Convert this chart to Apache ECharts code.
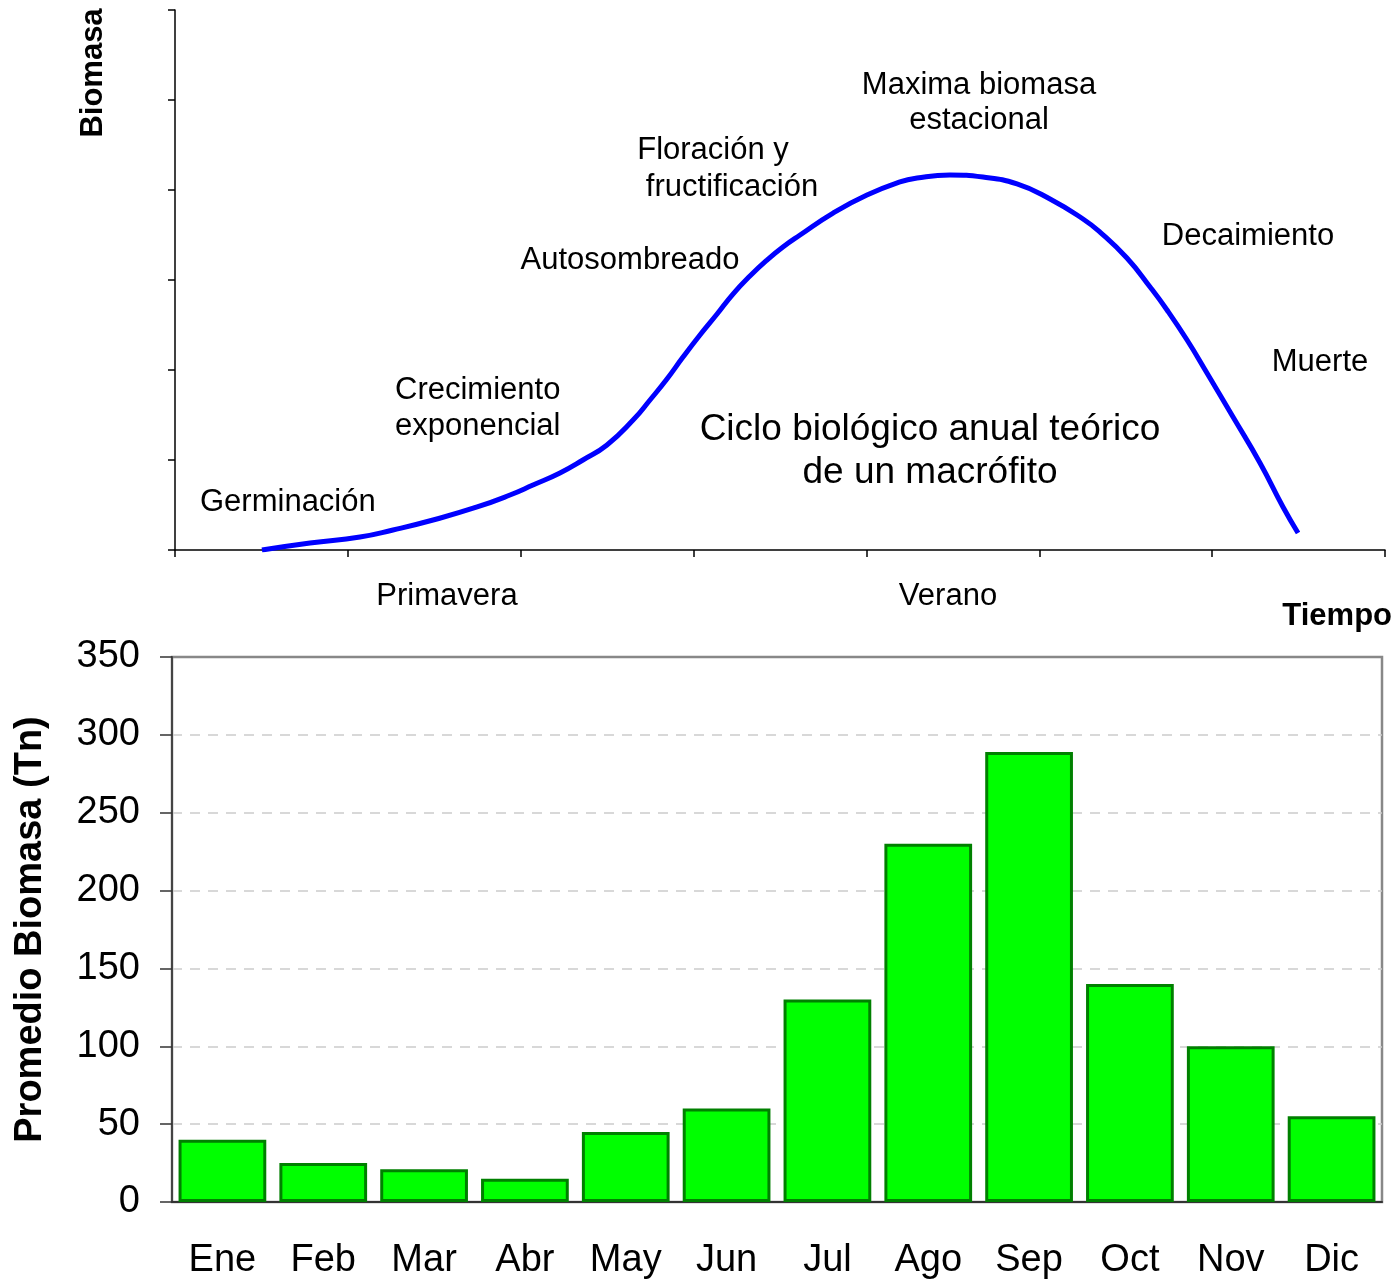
<!DOCTYPE html>
<html>
<head>
<meta charset="utf-8">
<script src="https://cdn.jsdelivr.net/npm/echarts@6/dist/echarts.min.js"></script>
<style>
  html, body { margin: 0; padding: 0; background: #fff; }
  #chart { width: 1398px; height: 1279px; }
</style>
</head>
<body>
<div id="chart"></div>
<script>
// Curva teórica (arriba): tiempo y biomasa en unidades de tick
const curveX = [0.503, 0.781, 1.070, 1.261, 1.493, 1.748, 1.938, 2.071, 2.227, 2.360, 2.499, 2.650, 2.748, 2.846, 2.939,
  3.037, 3.136, 3.228, 3.326, 3.425, 3.517, 3.616, 3.807, 4.003, 4.194, 4.293, 4.483, 4.674, 4.871, 5.062,
  5.253, 5.351, 5.507, 5.641, 5.739, 5.855, 5.970, 6.121, 6.277, 6.410, 6.497];
const curveY = [0.000, 0.078, 0.144, 0.222, 0.333, 0.478, 0.611, 0.722, 0.856, 1.000, 1.167, 1.444, 1.667, 1.900, 2.144,
  2.389, 2.622, 2.844, 3.044, 3.222, 3.367, 3.500, 3.744, 3.944, 4.089, 4.133, 4.167, 4.144, 4.067, 3.900,
  3.678, 3.533, 3.244, 2.922, 2.667, 2.333, 1.967, 1.478, 0.967, 0.478, 0.189];

// Promedio mensual (abajo)
const months = ['Ene', 'Feb', 'Mar', 'Abr', 'May', 'Jun', 'Jul', 'Ago', 'Sep', 'Oct', 'Nov', 'Dic'];
const biomasa = [40, 25, 21, 15, 45, 60, 130, 230, 289, 140, 100, 55];

const FONT = '"Liberation Sans", Arial, sans-serif';

function label(text, x, y, size, align, bold) {
  return {
    type: 'text', x: x, y: y, silent: true,
    style: {
      text: text, fill: '#000', font: (bold ? 'bold ' : '') + size + 'px ' + FONT,
      textAlign: align || 'center', textVerticalAlign: 'middle'
    }
  };
}

const chart = echarts.init(document.getElementById('chart'), null, { renderer: 'canvas' });
chart.setOption({
  animation: false,
  backgroundColor: '#fff',
  grid: [
    { left: 175, top: 10, width: 1210, height: 540, outerBoundsMode: 'none', containLabel: false },
    { left: 172, top: 657, width: 1210, height: 545, outerBoundsMode: 'none', containLabel: false,
      show: true, borderColor: '#888', borderWidth: 2.5, backgroundColor: 'transparent' }
  ],
  xAxis: [
    {
      gridIndex: 0, type: 'value', min: 0, max: 7, interval: 1,
      axisLine: { lineStyle: { color: '#000', width: 1.5 } },
      axisTick: { inside: false, length: 7, lineStyle: { color: '#000', width: 1.5 } },
      axisLabel: { show: false }, splitLine: { show: false }
    },
    {
      gridIndex: 1, type: 'category', data: months, boundaryGap: true,
      axisLine: { lineStyle: { color: '#333', width: 2 } },
      axisTick: { inside: false, length: 11, alignWithLabel: false, lineStyle: { color: '#333', width: 1.5 } },
      axisLabel: { color: '#000', fontSize: 38, fontFamily: FONT, margin: 40 },
      splitLine: { show: false }
    }
  ],
  yAxis: [
    {
      gridIndex: 0, type: 'value', min: 0, max: 6, interval: 1,
      axisLine: { show: true, lineStyle: { color: '#000', width: 1.5 } },
      axisTick: { show: true, inside: false, length: 7, lineStyle: { color: '#000', width: 1.5 } },
      axisLabel: { show: false }, splitLine: { show: false }
    },
    {
      gridIndex: 1, type: 'value', min: 0, max: 350, interval: 50,
      axisLine: { show: true, lineStyle: { color: '#444', width: 2 } },
      axisTick: { show: true, inside: false, length: 12, lineStyle: { color: '#333', width: 1.5 } },
      axisLabel: { color: '#000', fontSize: 38, fontFamily: FONT, margin: 32 },
      splitLine: { show: true, showMaxLine: false, showMinLine: false, lineStyle: { color: '#ccc', type: [10, 8], width: 1.5 } },
      name: 'Promedio Biomasa (Tn)', nameLocation: 'middle', nameGap: 122, nameRotate: 90,
      nameTextStyle: { color: '#000', fontSize: 38, fontWeight: 'bold', fontFamily: FONT }
    }
  ],
  series: [
    {
      type: 'line', xAxisIndex: 0, yAxisIndex: 0, smooth: 0.5, symbol: 'none',
      lineStyle: { color: '#0000ff', width: 5 },
      data: curveX.map(function (x, i) { return [x, curveY[i]]; })
    },
    {
      type: 'bar', xAxisIndex: 1, yAxisIndex: 1, barWidth: '87%',
      itemStyle: { color: '#00ff00', borderColor: '#008000', borderWidth: 3 },
      data: biomasa
    }
  ],
  graphic: [
    {
      type: 'text', x: 93, y: 73, rotation: Math.PI / 2, silent: true,
      style: { text: 'Biomasa', fill: '#000', font: 'bold 31px ' + FONT, textAlign: 'center', textVerticalAlign: 'middle' }
    },
    label('Maxima biomasa', 979, 85, 31),
    label('estacional', 979, 120, 31),
    label('Floración y', 713, 150, 31),
    label('fructificación', 732, 187, 31),
    label('Autosombreado', 630, 260, 31),
    label('Crecimiento', 395, 390, 31, 'left'),
    label('exponencial', 395, 426, 31, 'left'),
    label('Germinación', 200, 502, 31, 'left'),
    label('Decaimiento', 1248, 236, 31),
    label('Muerte', 1320, 362, 31),
    label('Ciclo biológico anual teórico', 930, 430, 37),
    label('de un macrófito', 930, 473, 37),
    label('Primavera', 447, 596, 31),
    label('Verano', 948, 596, 31),
    label('Tiempo', 1392, 616, 31, 'right', true)
  ]
});
</script>
</body>
</html>
